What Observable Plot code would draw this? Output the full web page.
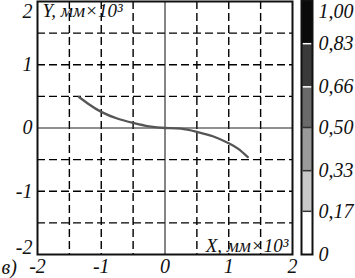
<!DOCTYPE html>
<html>
<head>
<meta charset="utf-8">
<script src="https://cdn.jsdelivr.net/npm/d3@7"></script>
<script src="https://cdn.jsdelivr.net/npm/@observablehq/plot@0.6"></script>
<style>
  html, body { margin: 0; padding: 0; background: #fff; }
  #wrap { position: relative; width: 355px; height: 278px; overflow: hidden; }
  #main { position: absolute; left: 0; top: 0; }
  #bar { position: absolute; left: 300px; top: 0; }
  #wrap svg text { font-family: "Liberation Serif", serif !important; font-style: italic !important; fill: #111; }
</style>
</head>
<body>
<div id="wrap"><div id="main"></div><div id="bar"></div></div>
<script>
// ---- data ----
const curveX = [-1.35, -1.2, -1.0, -0.75, -0.5, -0.25, 0, 0.25, 0.5, 0.75, 1.0, 1.15, 1.3];
const curveY = [0.49, 0.38, 0.255, 0.15, 0.08, 0.025, 0, -0.01, -0.06, -0.13, -0.24, -0.33, -0.46];
const gridX = [-1.5, -1, -0.5, 0.5, 1, 1.5];
const gridY = [-1.5, -1, -0.5, 0.5, 1, 1.5];
const xTicks = [-2, -1, 0, 1, 2];
const yTicksMid = [-1, 0, 1];
const yLabel = "Y, мм×10³";
const xLabel = "X, мм×10³";
const panelLabel = "в)";
const barBounds = [0, 0.17, 0.33, 0.5, 0.66, 0.83, 1];
const barLabels = ["0", "0,17", "0,33", "0,50", "0,66", "0,83", "1,00"];
const barColors = ["#ffffff", "#c8c8c8", "#9a9a9a", "#6a6a6a", "#3a3a3a", "#0a0a0a"];

const curve = curveX.map((x, i) => ({x, y: curveY[i]}));
const segs = barColors.map((c, i) => ({lo: barBounds[i], hi: barBounds[i + 1], c}));

const font = {fontFamily: "'Liberation Serif', serif", fontStyle: "italic", fontSize: "20px", background: "transparent", color: "#111"};
const fmt = d => String(d).replace("−", "-");
const T = {fontSize: 20, fontFamily: "Liberation Serif", fontStyle: "italic"};
const L = {fontSize: 19, fontFamily: "Liberation Serif", fontStyle: "italic"};

const main = Plot.plot({
  width: 300, height: 278,
  marginLeft: 37, marginRight: 8, marginTop: 1, marginBottom: 24,
  style: font,
  x: {domain: [-2, 2], label: null},
  y: {domain: [-2, 2], label: null},
  marks: [
    Plot.ruleX(gridX, {stroke: "#000", strokeWidth: 1.4, strokeDasharray: "8,4"}),
    Plot.ruleY(gridY, {stroke: "#000", strokeWidth: 1.4, strokeDasharray: "8,4"}),
    Plot.ruleX([0], {stroke: "#222", strokeWidth: 1.1}),
    Plot.ruleY([0], {stroke: "#222", strokeWidth: 1.1}),
    Plot.line(curve, {x: "x", y: "y", stroke: "#555", strokeWidth: 2.3, curve: "natural"}),
    Plot.frame({stroke: "#111", strokeWidth: 2}),
    Plot.axisX(xTicks, {...T, tickSize: 0, tickPadding: 4, tickFormat: fmt, label: null}),
    Plot.axisY(yTicksMid, {...T, tickSize: 0, tickPadding: 5, tickFormat: fmt, label: null}),
    Plot.axisY([2], {...T, tickSize: 0, tickPadding: 5, dy: 10, tickFormat: fmt, label: null}),
    Plot.axisY([-2], {...T, tickSize: 0, tickPadding: 5, dy: -7, tickFormat: fmt, label: null}),
    Plot.text([yLabel], {...L, frameAnchor: "top-left", dx: 5, dy: 2, text: d => d}),
    Plot.text([xLabel], {...L, frameAnchor: "bottom-right", dx: -4, dy: -3, text: d => d, lineAnchor: "bottom"}),
    Plot.text([panelLabel], {...T, frameAnchor: "bottom-left", dx: -36, dy: 13, text: d => d, textAnchor: "start", lineAnchor: "middle"})
  ]
});
document.getElementById("main").appendChild(main);

const bar = Plot.plot({
  width: 55, height: 278,
  marginLeft: 1, marginRight: 43, marginTop: 0, marginBottom: 24,
  style: font,
  x: {domain: [0, 1], axis: null},
  y: {domain: [0, 1], axis: null},
  marks: [
    Plot.rect(segs, {x1: 0, x2: 1, y1: "lo", y2: "hi", fill: "c"}),
    Plot.ruleY(barBounds.slice(1, 6), {x1: 0.15, x2: 0.95, stroke: (d, i) => i >= 3 ? "#fff" : "#333", strokeWidth: 1.5}),
    Plot.frame({stroke: "#111", strokeWidth: 2}),
    Plot.axisY(barBounds.slice(0, 6), {...T, anchor: "right", tickSize: 0, tickPadding: 6, tickFormat: (d, i) => barLabels[i], label: null}),
    Plot.axisY([1], {...T, anchor: "right", tickSize: 0, tickPadding: 6, dy: 11, tickFormat: () => barLabels[6], label: null})
  ]
});
document.getElementById("bar").appendChild(bar);
</script>
</body>
</html>
